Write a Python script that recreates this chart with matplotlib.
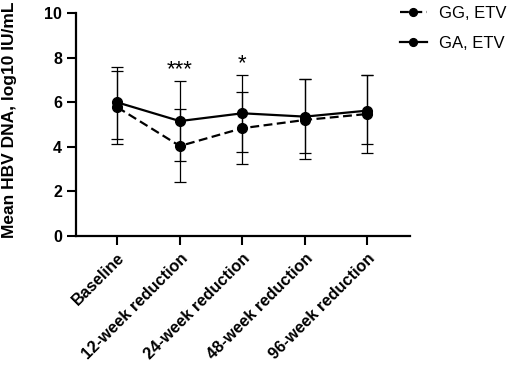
import matplotlib
matplotlib.use("Agg")
import matplotlib.pyplot as plt
import numpy as np

plt.rcParams['font.family'] = ['Liberation Sans', 'DejaVu Sans']

categories = ["Baseline", "12-week reduction", "24-week reduction",
              "48-week reduction", "96-week reduction"]
gg_mean = [5.78, 4.04, 4.84, 5.21, 5.48]
gg_upper = [7.41, 5.69, 6.47, 7.04, 7.21]
gg_lower = [4.12, 2.41, 3.23, 3.44, 3.71]
ga_mean = [6.00, 5.16, 5.51, 5.36, 5.63]
ga_upper = [7.60, 6.96, 7.23, 7.04, 7.21]
ga_lower = [4.34, 3.37, 3.77, 3.71, 4.12]
sig_labels = ["", "***", "*", "", ""]
sig_y = [None, 7.45, 7.72, None, None]

fig = plt.figure(figsize=(5.12, 3.66), dpi=100)
ax = fig.add_axes([0.1484, 0.3552, 0.8008 - 0.1484, 0.9637 - 0.3552])

x = np.arange(len(categories))
gg_m = np.array(gg_mean)
ga_m = np.array(ga_mean)
gg_err = [gg_m - np.array(gg_lower), np.array(gg_upper) - gg_m]
ga_err = [ga_m - np.array(ga_lower), np.array(ga_upper) - ga_m]

ax.errorbar(x, gg_m, yerr=gg_err, fmt='none', ecolor='black', elinewidth=0.9,
            capsize=4.3, capthick=0.9, zorder=2)
ax.errorbar(x, ga_m, yerr=ga_err, fmt='none', ecolor='black', elinewidth=0.9,
            capsize=4.3, capthick=0.9, zorder=2)
l1, = ax.plot(x, gg_m, color='black', linestyle=(0, (4, 2)), linewidth=1.6,
              marker='o', markersize=7, label='GG, ETV', zorder=3)
l2, = ax.plot(x, ga_m, color='black', linestyle='-', linewidth=1.6,
              marker='o', markersize=7, label='GA, ETV', zorder=4)

for xi, s, yv in zip(x, sig_labels, sig_y):
    if s:
        ax.text(xi, yv, s, ha='center', va='center', fontsize=16, color='black')

ax.set_xlim(-0.66, 4.68)
ax.set_ylim(0, 10)
ax.set_yticks([0, 2, 4, 6, 8, 10])
ax.set_xticks(x)
ax.set_xticklabels(categories, rotation=45, ha='right', rotation_mode='anchor',
                   fontsize=11.8, fontweight='bold')
for lab in ax.get_yticklabels():
    lab.set_fontweight('bold')
    lab.set_fontsize(11.5)
ax.set_ylabel('Mean HBV DNA, log10 IU/mL', fontsize=12.5, fontweight='bold')
ax.yaxis.set_label_coords(-0.178, 0.52)
ax.tick_params(axis='both', direction='out', length=6.5, width=1.5, color='black')
ax.tick_params(axis='x', pad=4)
for sp in ['top', 'right']:
    ax.spines[sp].set_visible(False)
for sp in ['left', 'bottom']:
    ax.spines[sp].set_linewidth(1.6)

leg = fig.legend(handles=[l1, l2], loc='upper left', bbox_to_anchor=(0.752, 1.025),
                 frameon=False, fontsize=12, handlelength=1.6, labelspacing=0.9,
                 handletextpad=0.75, markerscale=0.8)

fig.savefig('out.png', dpi=100)
